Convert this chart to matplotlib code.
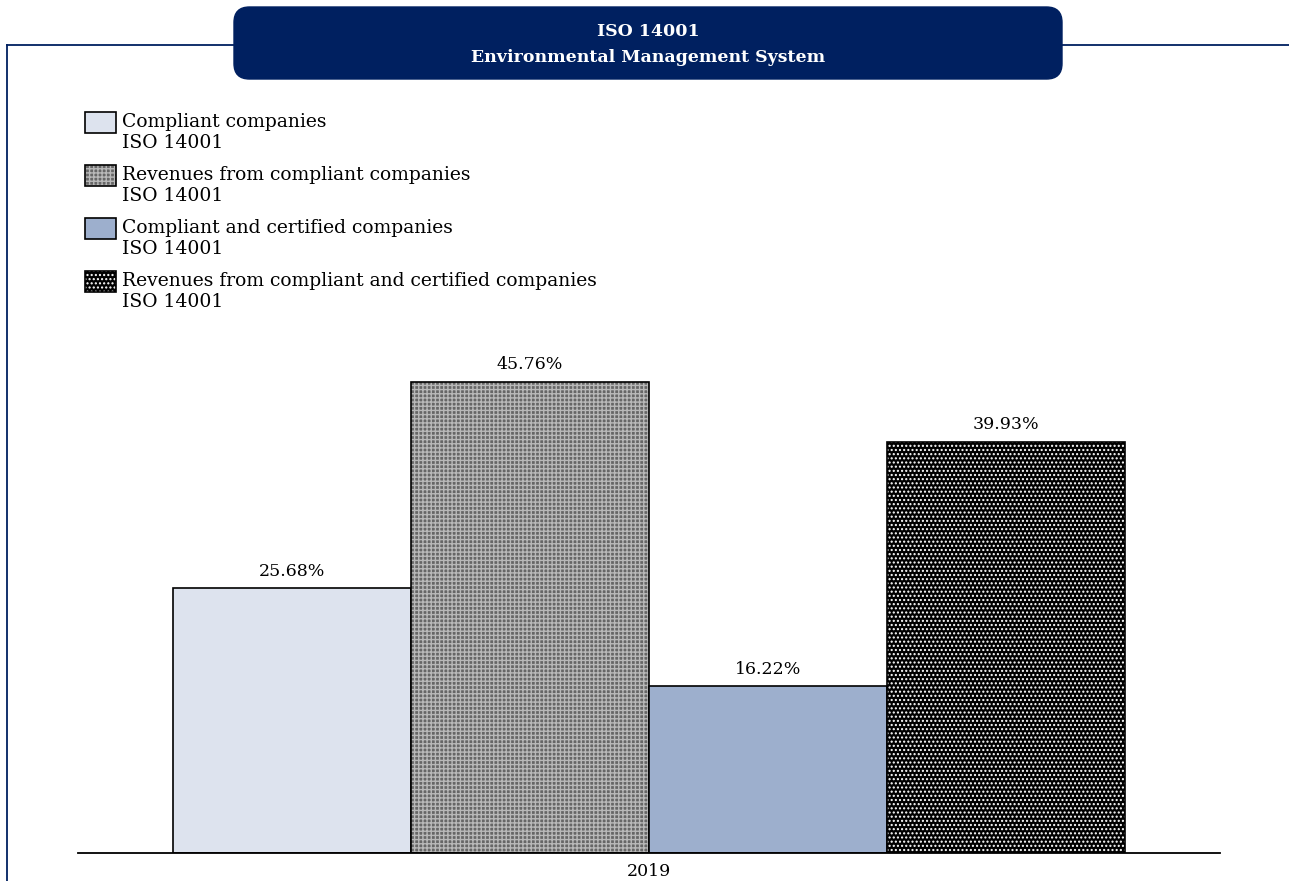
import matplotlib
matplotlib.use("Agg")
import matplotlib.pyplot as plt
from matplotlib.patches import FancyBboxPatch, Rectangle
from matplotlib.lines import Line2D

plt.rcParams['font.family'] = ['DejaVu Serif']

# data
year = "2019"
series = [
    "Compliant companies\nISO 14001",
    "Revenues from compliant companies\nISO 14001",
    "Compliant and certified companies\nISO 14001",
    "Revenues from compliant and certified companies\nISO 14001",
]
values = [25.68, 45.76, 16.22, 39.93]
title_lines = ["ISO 14001", "Environmental Management System"]

W, H = 1289, 881
NAVY = "#002060"
faces = ["#dde3ee", "#666666", "#9dafcd", "#000000"]
hatches = [None, "++++", None, "...."]
hatch_cols = [None, "#b8b8b8", None, "#ffffff"]

fig = plt.figure(figsize=(W / 100, H / 100), dpi=100)


def fx(x):
    return x / W


def fy(y):
    return 1 - y / H


# frame lines
fig.add_artist(Line2D([fx(7), fx(1289)], [fy(45), fy(45)], color=NAVY, lw=1.3))
fig.add_artist(Line2D([fx(7), fx(7)], [fy(45), fy(881)], color=NAVY, lw=1.3))

# title box
box = FancyBboxPatch((fx(234), fy(79)), fx(1062) - fx(234), fy(7) - fy(79),
                     boxstyle="round,pad=0,rounding_size=0.012",
                     transform=fig.transFigure, facecolor=NAVY, edgecolor=NAVY,
                     mutation_aspect=W / H)
fig.add_artist(box)
fig.text(fx(648), fy(31), title_lines[0], color="white", fontsize=12.5,
         fontweight="bold", ha="center", va="center")
fig.text(fx(648), fy(57), title_lines[1], color="white", fontsize=12.5,
         fontweight="bold", ha="center", va="center")

# axes
ax = fig.add_axes([fx(78), fy(853), fx(1220) - fx(78), fy(338) - fy(853)])
xs = [-1.5, -0.5, 0.5, 1.5]
for x, v, fc, h, hc in zip(xs, values, faces, hatches, hatch_cols):
    if h:
        ax.bar(x, v, width=1, color=fc, edgecolor=hc, hatch=h, linewidth=0)
        ax.bar(x, v, width=1, color="none", edgecolor="black", linewidth=1.2)
    else:
        ax.bar(x, v, width=1, color=fc, edgecolor="black", linewidth=1.2)
    ax.text(x, v + 0.8, f"{v:.2f}%", ha="center", va="bottom", fontsize=12.5)

ax.set_xlim(-2.399, 2.399)
ax.set_ylim(0, 50)
ax.set_xticks([0])
ax.set_xticklabels([year], fontsize=12.5)
ax.tick_params(axis="x", length=0, pad=7)
ax.set_yticks([])
for s in ["top", "left", "right"]:
    ax.spines[s].set_visible(False)
ax.spines["bottom"].set_linewidth(1.3)
ax.patch.set_alpha(0)

# legend
for i, (lab, fc, h, hc) in enumerate(zip(series, faces, hatches, hatch_cols)):
    top = 112 + 53 * i
    r = Rectangle((fx(85), fy(top + 21)), fx(116) - fx(85), fy(top) - fy(top + 21),
                  transform=fig.transFigure, facecolor=fc,
                  edgecolor=hc if h else "black", hatch=h, linewidth=0 if h else 1.2)
    fig.add_artist(r)
    if h:
        fig.add_artist(Rectangle((fx(85), fy(top + 21)), fx(116) - fx(85),
                                 fy(top) - fy(top + 21), transform=fig.transFigure,
                                 facecolor="none", edgecolor="black", linewidth=1.2))
    fig.text(fx(122), fy(top + 1), lab, fontsize=13.5, ha="left", va="top",
             linespacing=1.2)

fig.savefig("out.png", dpi=100)
